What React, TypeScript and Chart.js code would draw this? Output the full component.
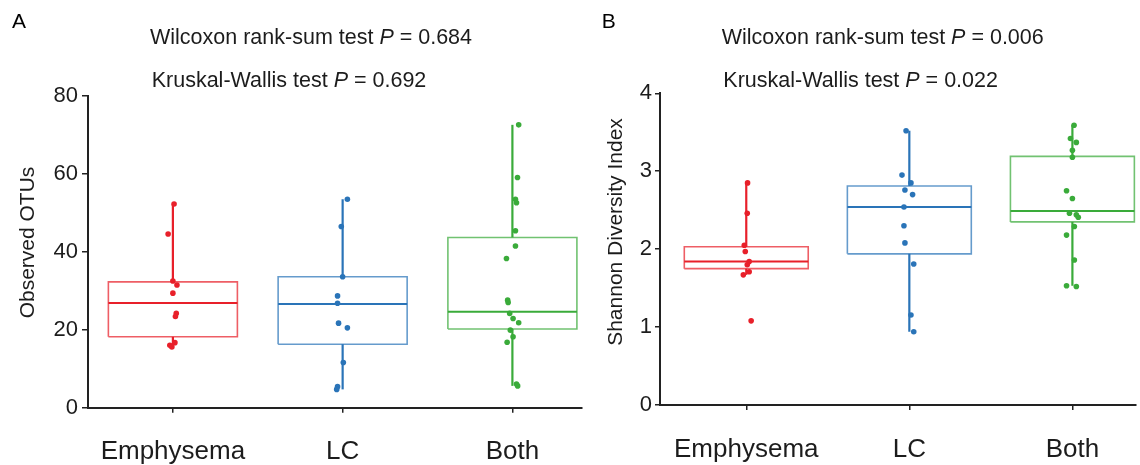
import React, { useEffect, useRef } from "react";
import { Chart, registerables } from "chart.js";

Chart.register(...registerables);

const categories = ["Emphysema", "LC", "Both"];

// ---- Panel A: Observed OTUs ----
const otuEmphysema = [52.3, 44.6, 32.5, 31.5, 29.4, 24.2, 23.4, 16.7, 16.0, 15.6];
const otuEmphysemaJitter = [0.007, -0.028, 0, 0.024, 0, 0.02, 0.015, 0.012, -0.018, -0.006];
const otuLC = [53.5, 46.5, 33.6, 28.7, 26.8, 21.7, 20.5, 11.6, 5.4, 4.7];
const otuLCJitter = [0.028, -0.008, 0, -0.03, -0.03, -0.024, 0.028, 0.004, -0.03, -0.035];
const otuBoth = [72.6, 59.1, 53.5, 52.6, 45.4, 41.5, 38.3, 27.6, 27.0, 24.2, 22.9, 21.8, 19.9, 18.2, 16.8, 6.1, 5.6];
const otuBothJitter = [0.037, 0.03, 0.018, 0.024, 0.018, 0.018, -0.035, -0.028, -0.025, -0.016, 0.004, 0.037, -0.012, 0.004, -0.031, 0.024, 0.031];
// [whisker low, Q1, median, Q3, whisker high]
const otuBoxEmphysema = [15.6, 18.2, 26.9, 32.3, 52.3];
const otuBoxLC = [4.7, 16.3, 26.6, 33.6, 53.5];
const otuBoxBoth = [5.6, 20.2, 24.6, 43.7, 72.6];
const otuTicks = [0, 20, 40, 60, 80];

// ---- Panel B: Shannon Diversity Index ----
const shEmphysema = [2.85, 2.46, 2.05, 1.97, 1.84, 1.8, 1.71, 1.67, 1.08];
const shEmphysemaJitter = [0.008, 0.006, -0.012, -0.006, 0.018, 0.006, 0.018, -0.018, 0.03];
const shLC = [3.52, 2.95, 2.85, 2.76, 2.7, 2.54, 2.3, 2.08, 1.81, 1.155, 0.94];
const shLCJitter = [-0.02, -0.045, 0.01, -0.027, 0.02, -0.033, -0.033, -0.027, 0.027, 0.01, 0.027];
const shBoth = [3.59, 3.42, 3.37, 3.27, 3.18, 2.75, 2.65, 2.46, 2.44, 2.41, 2.29, 2.18, 1.86, 1.53, 1.52];
const shBothJitter = [0.01, -0.012, 0.024, 0, 0, -0.036, 0, -0.018, 0.024, 0.036, 0.012, -0.036, 0.012, -0.036, 0.024];
const shBoxEmphysema = [1.67, 1.75, 1.84, 2.03, 2.85];
const shBoxLC = [0.94, 1.94, 2.54, 2.81, 3.52];
const shBoxBoth = [1.53, 2.35, 2.49, 3.19, 3.59];
const shTicks = [0, 1, 2, 3, 4];

const pTextA = { wilcoxon: "0.684", kruskal: "0.692" };
const pTextB = { wilcoxon: "0.006", kruskal: "0.022" };

const COLORS = [
  { solid: "#e8202a", light: "rgba(232,32,42,0.72)" },
  { solid: "#2a74b8", light: "rgba(42,116,184,0.72)" },
  { solid: "#3aab3a", light: "rgba(58,171,58,0.72)" },
];

const HALF = 0.38;
const TEXT = "#1c1c1c";
const FONT = "'Liberation Sans', Arial, sans-serif";

type Group = { values: number[]; jitter: number[]; box: number[] };

function buildDatasets(groups: Group[]) {
  const ds: any[] = [];
  groups.forEach((g, i) => {
    const c = i + 1;
    const [wl, q1, med, q3, wh] = g.box;
    const col = COLORS[i];
    const line = (data: any[], color: string, width: number) => ({
      data,
      showLine: true,
      borderColor: color,
      borderWidth: width,
      pointRadius: 0,
      fill: false,
      tension: 0,
      clip: false,
    });
    ds.push(
      line(
        [
          { x: c - HALF, y: q1 },
          { x: c + HALF, y: q1 },
          { x: c + HALF, y: q3 },
          { x: c - HALF, y: q3 },
          { x: c - HALF, y: q1 },
        ],
        col.light,
        1.6
      )
    );
    ds.push(line([{ x: c - HALF, y: med }, { x: c + HALF, y: med }], col.solid, 2));
    ds.push(line([{ x: c, y: q3 }, { x: c, y: wh }], col.solid, 2.2));
    ds.push(line([{ x: c, y: wl }, { x: c, y: q1 }], col.solid, 2.2));
  });
  groups.forEach((g, i) => {
    const c = i + 1;
    ds.push({
      data: g.values.map((v, k) => ({ x: c + g.jitter[k], y: v })),
      showLine: false,
      pointRadius: 2.8,
      pointBackgroundColor: COLORS[i].solid,
      pointBorderWidth: 0,
      clip: false,
    });
  });
  return ds;
}

type PanelCfg = {
  width: number;
  letter: string;
  letterX: number;
  wilX: number;
  krX: number;
  p: { wilcoxon: string; kruskal: string };
  yTitle: string;
  yTitleX: number;
  yTitleY: number;
  yMax: number;
  yTicks: number[];
  xMin: number;
  xMax: number;
  padTop: number;
  padRight: number;
  yAxisWidth: number;
  xAxisHeight: number;
  yTickLen: number;
  yTickPad: number;
  xLabelPad: number;
  groups: Group[];
};

function drawStatLine(ctx: CanvasRenderingContext2D, x: number, y: number, prefix: string, val: string) {
  const size = 21.5;
  ctx.fillStyle = TEXT;
  ctx.textBaseline = "alphabetic";
  ctx.textAlign = "left";
  ctx.font = `${size}px ${FONT}`;
  ctx.fillText(prefix, x, y);
  let cx = x + ctx.measureText(prefix).width;
  ctx.font = `italic ${size}px ${FONT}`;
  ctx.fillText("P", cx, y);
  cx += ctx.measureText("P").width;
  ctx.font = `${size}px ${FONT}`;
  ctx.fillText(" = " + val, cx, y);
}

function Panel({ cfg, left }: { cfg: PanelCfg; left: number }) {
  const ref = useRef<HTMLCanvasElement | null>(null);
  useEffect(() => {
    if (!ref.current) return;
    const textPlugin = {
      id: "panelText",
      afterDraw(chart: any) {
        const ctx = chart.ctx as CanvasRenderingContext2D;
        ctx.save();
        ctx.fillStyle = "#000";
        ctx.font = `21px ${FONT}`;
        ctx.textBaseline = "alphabetic";
        ctx.textAlign = "left";
        ctx.fillText(cfg.letter, cfg.letterX, 28);
        drawStatLine(ctx, cfg.wilX, 43.5, "Wilcoxon rank-sum test ", cfg.p.wilcoxon);
        drawStatLine(ctx, cfg.krX, 86.7, "Kruskal-Wallis test ", cfg.p.kruskal);
        ctx.translate(cfg.yTitleX, cfg.yTitleY);
        ctx.rotate(-Math.PI / 2);
        ctx.textAlign = "center";
        ctx.textBaseline = "middle";
        ctx.font = `21px ${FONT}`;
        ctx.fillStyle = TEXT;
        ctx.fillText(cfg.yTitle, 0, 0);
        ctx.restore();
      },
    };
    const chart = new Chart(ref.current, {
      type: "scatter",
      data: { datasets: buildDatasets(cfg.groups) },
      options: {
        animation: false,
        responsive: false,
        devicePixelRatio: 1,
        layout: { padding: { top: cfg.padTop, right: cfg.padRight, left: 0, bottom: 0 } },
        plugins: { legend: { display: false }, tooltip: { enabled: false }, title: { display: false } },
        scales: {
          x: {
            type: "linear",
            min: cfg.xMin,
            max: cfg.xMax,
            afterBuildTicks: (s: any) => {
              s.ticks = categories.map((_, i) => ({ value: i + 1 }));
            },
            afterFit: (s: any) => {
              s.height = cfg.xAxisHeight;
            },
            ticks: {
              autoSkip: false,
              maxRotation: 0,
              padding: cfg.xLabelPad,
              color: TEXT,
              font: { size: 26, family: FONT },
              callback: (v: any) => categories[Math.round(Number(v)) - 1] ?? "",
            },
            grid: { drawOnChartArea: false, color: "#222", tickLength: 5, lineWidth: 1.5 },
            border: { color: "#222", width: 2 },
          },
          y: {
            type: "linear",
            min: 0,
            max: cfg.yMax,
            afterBuildTicks: (s: any) => {
              s.ticks = cfg.yTicks.map((v) => ({ value: v }));
            },
            afterFit: (s: any) => {
              s.width = cfg.yAxisWidth;
            },
            ticks: {
              padding: cfg.yTickPad,
              color: TEXT,
              font: { size: 22, family: FONT },
            },
            grid: { drawOnChartArea: false, color: "#222", tickLength: cfg.yTickLen, lineWidth: 1.5 },
            border: { color: "#222", width: 2 },
          },
        },
      },
      plugins: [textPlugin],
    });
    return () => chart.destroy();
  }, [cfg]);
  return (
    <canvas
      ref={ref}
      width={cfg.width}
      height={465}
      style={{ position: "absolute", left, top: 0, display: "block" }}
    />
  );
}

const cfgA: PanelCfg = {
  width: 590,
  letter: "A",
  letterX: 12,
  wilX: 150,
  krX: 151.7,
  p: pTextA,
  yTitle: "Observed OTUs",
  yTitleX: 28.5,
  yTitleY: 242.5,
  yMax: 80,
  yTicks: otuTicks,
  xMin: 0.5,
  xMax: 3.41,
  padTop: 96,
  padRight: 8,
  yAxisWidth: 88,
  xAxisHeight: 57.3,
  yTickLen: 6,
  yTickPad: 4,
  xLabelPad: 24,
  groups: [
    { values: otuEmphysema, jitter: otuEmphysemaJitter, box: otuBoxEmphysema },
    { values: otuLC, jitter: otuLCJitter, box: otuBoxLC },
    { values: otuBoth, jitter: otuBothJitter, box: otuBoxBoth },
  ],
};

const cfgB: PanelCfg = {
  width: 550,
  letter: "B",
  letterX: 11.7,
  wilX: 131.7,
  krX: 133.3,
  p: pTextB,
  yTitle: "Shannon Diversity Index",
  yTitleX: 26.7,
  yTitleY: 232,
  yMax: 4,
  yTicks: shTicks,
  xMin: 0.471,
  xMax: 3.39,
  padTop: 93.3,
  padRight: 0,
  yAxisWidth: 70,
  xAxisHeight: 60,
  yTickLen: 5,
  yTickPad: 3,
  xLabelPad: 24,
  groups: [
    { values: shEmphysema, jitter: shEmphysemaJitter, box: shBoxEmphysema },
    { values: shLC, jitter: shLCJitter, box: shBoxLC },
    { values: shBoth, jitter: shBothJitter, box: shBoxBoth },
  ],
};

export default function App() {
  return (
    <div style={{ position: "fixed", left: 0, top: 0, width: 1140, height: 465, background: "#fff", overflow: "hidden" }}>
      <Panel cfg={cfgA} left={0} />
      <Panel cfg={cfgB} left={590} />
    </div>
  );
}
